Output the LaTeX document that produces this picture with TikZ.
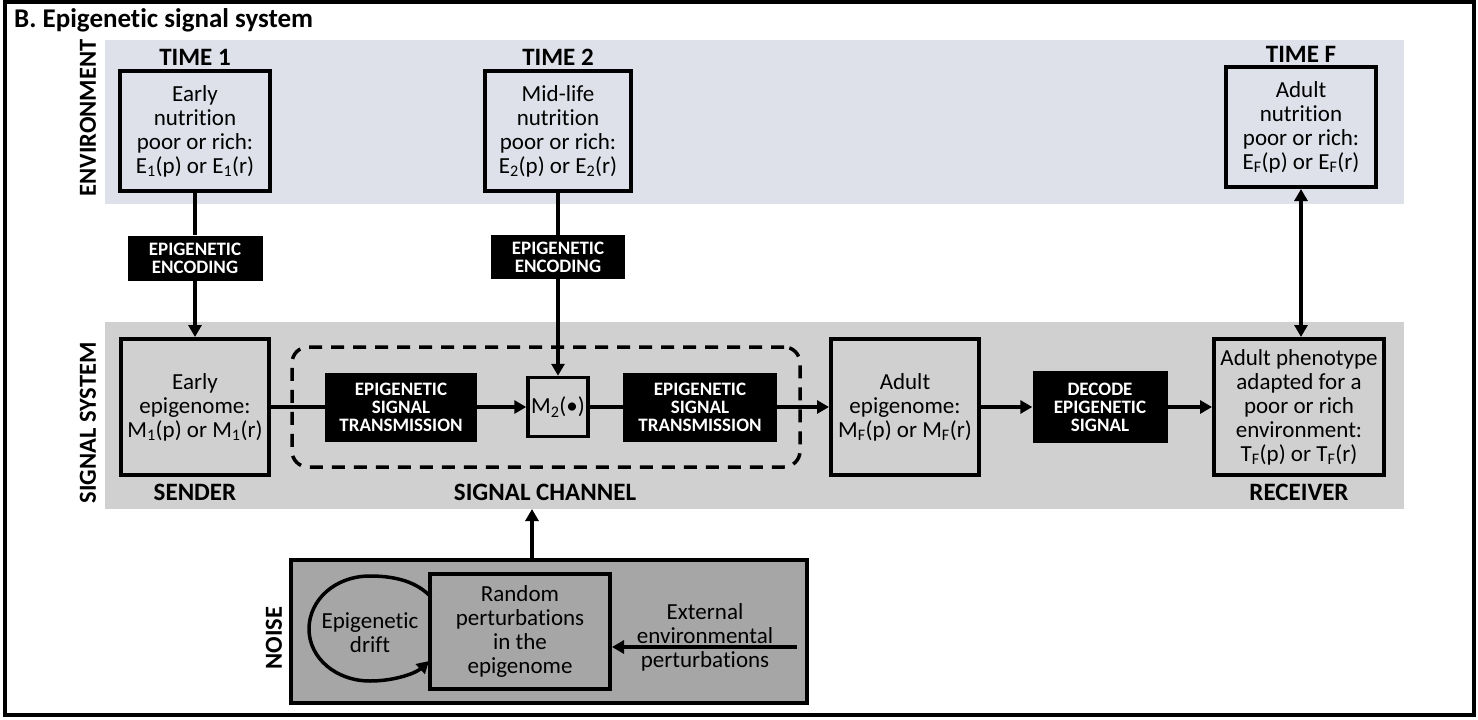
\documentclass[tikz,border=0pt]{standalone}
\usepackage{fontspec}
\setmainfont{Carlito}[Ligatures=NoCommon]
\usetikzlibrary{arrows.meta}
\definecolor{envbg}{RGB}{222,225,234}
\definecolor{sigbg}{RGB}{208,208,208}
\definecolor{noisebg}{RGB}{166,166,166}
\newcommand\bodyf{\fontsize{23}{24}\selectfont}
\newcommand\labf{\bfseries\fontsize{25}{26}\selectfont}
\newcommand\sidef{\bfseries\fontsize{24.5}{26}\selectfont}
\newcommand\blkf{\bfseries\fontsize{19}{18}\selectfont}
\begin{document}
\begin{tikzpicture}[x=1pt,y=-1pt,
 box/.style={draw=black,line width=4pt,align=center,font=\bodyf,inner sep=0pt},
 blk/.style={fill=black,text=white,align=center,font=\blkf,inner sep=0pt},
 lab/.style={font=\labf,inner sep=0pt},
 side/.style={font=\sidef,inner sep=0pt,rotate=90},
 arr/.style={line width=3.5pt,-{Triangle[length=12pt,width=13pt]}},
 ln/.style={line width=3.5pt},
 band/.style={inner sep=0pt,minimum width=1299pt}]
\useasboundingbox (0,0) rectangle (1478,720);
\fill[white] (0,0) rectangle (1478,720);
\draw[line width=4pt] (5,2) rectangle (1474,715);
\node[anchor=base west,font=\bfseries\fontsize{27}{30}\selectfont,inner sep=0pt] (title) at (14,27.5) {B. Epigenetic signal system};
% bands
\node[band,fill=envbg,minimum height=164pt] (envband) at (754.5,122) {};
\node[band,fill=sigbg,minimum height=187pt] (sigband) at (754.5,415.5) {};
\node[side] (envlab) at (88,118) {ENVIRONMENT};
\node[side] (siglab) at (88,423) {SIGNAL SYSTEM};
% environment boxes
\node[box,fill=envbg,minimum width=150pt,minimum height=120pt] (e1) at (195,131) {Early\\nutrition\\poor or rich:\\E\textsubscript{1}(p) or E\textsubscript{1}(r)};
\node[box,fill=envbg,minimum width=146pt,minimum height=120pt] (e2) at (558,131) {Mid-life\\nutrition\\poor or rich:\\E\textsubscript{2}(p) or E\textsubscript{2}(r)};
\node[box,fill=envbg,minimum width=150pt,minimum height=120pt] (eF) at (1301,127) {Adult\\nutrition\\poor or rich:\\E\textsubscript{F}(p) or E\textsubscript{F}(r)};
\node[lab,anchor=base] (t1) at (195,65) {TIME 1};
\node[lab,anchor=base] (t2) at (558,65) {TIME 2};
\node[lab,anchor=base] (tF) at (1301,62) {TIME F};
% encoding
\node[blk,minimum width=135pt,minimum height=45pt] (enc1) at (195,258) {EPIGENETIC\\ENCODING};
\node[blk,minimum width=134pt,minimum height=44pt] (enc2) at (558,257) {EPIGENETIC\\ENCODING};
% signal system
\node[box,fill=sigbg,minimum width=148pt,minimum height=136pt] (sender) at (195,407) {Early\\epigenome:\\M\textsubscript{1}(p) or M\textsubscript{1}(r)};
\node[draw=black,line width=3.5pt,dash pattern=on 13pt off 9pt,rounded corners=16pt,minimum width=508pt,minimum height=120pt,inner sep=0pt] (chan) at (546,407) {};
\node[blk,minimum width=152pt,minimum height=69pt] (trans1) at (401,407) {EPIGENETIC\\SIGNAL\\TRANSMISSION};
\node[box,line width=3.5pt,fill=sigbg,minimum width=60pt,minimum height=59pt] (m2) at (558,407) {M\textsubscript{2}(\textbullet)};
\node[blk,minimum width=154pt,minimum height=69pt] (trans2) at (700,407) {EPIGENETIC\\SIGNAL\\TRANSMISSION};
\node[box,fill=sigbg,minimum width=148pt,minimum height=136pt] (adult) at (905,407) {Adult\\epigenome:\\M\textsubscript{F}(p) or M\textsubscript{F}(r)};
\node[blk,minimum width=135pt,minimum height=72pt] (decode) at (1100,407) {DECODE\\EPIGENETIC\\SIGNAL};
\node[box,fill=sigbg,minimum width=170pt,minimum height=136pt] (recv) at (1299,407) {Adult phenotype\\adapted for a\\poor or rich\\environment:\\T\textsubscript{F}(p) or T\textsubscript{F}(r)};
\node[lab,anchor=base] (sendlab) at (195,500) {SENDER};
\node[lab,anchor=base] (chanlab) at (545,500) {SIGNAL CHANNEL};
\node[lab,anchor=base] (recvlab) at (1299,500) {RECEIVER};
% noise
\node[box,fill=noisebg,minimum width=516pt,minimum height=143pt] (noise) at (549,631) {};
\node[side] (noiselab) at (274,638) {NOISE};
\node[box,fill=noisebg,minimum width=180pt,minimum height=115pt] (random) at (520,631) {Random\\perturbations\\in the\\epigenome};
\node[font=\bodyf,align=center,inner sep=0pt] (drift) at (370,633) {Epigenetic\\drift};
\node[font=\bodyf,align=center,inner sep=0pt] (ext) at (705,637) {External\\environmental\\perturbations};
\coordinate (extstart) at (797,647);
\coordinate (chtip) at (532,509);
\coordinate (dstart) at (431,597);
\coordinate (dend) at (429,661);
% connectors
\draw[ln] (e1) -- (enc1);
\draw[arr] (enc1) -- (sender);
\draw[ln] (e2) -- (enc2);
\draw[arr] (enc2) -- (m2);
\draw[ln] (sender) -- (trans1);
\draw[arr] (trans1) -- (m2);
\draw[ln] (m2) -- (trans2);
\draw[arr] (trans2) -- (adult);
\draw[arr] (adult) -- (decode);
\draw[arr] (decode) -- (recv);
\draw[line width=3.5pt,{Triangle[length=12pt,width=13pt]}-{Triangle[length=12pt,width=13pt]}] (eF.south) -- (eF.south |- recv.north);
\draw[arr] (noise.north -| chtip) -- (chtip);
\draw[arr] (extstart) -- (random.east |- extstart);
\draw[arr] (dstart) .. controls (417,582) and (396,576) .. (370,576)
  .. controls (335,576) and (309,600) .. (309,629)
  .. controls (309,658) and (336,681) .. (370,681)
  .. controls (395,681) and (416,673) .. (dend);
\end{tikzpicture}
\end{document}
